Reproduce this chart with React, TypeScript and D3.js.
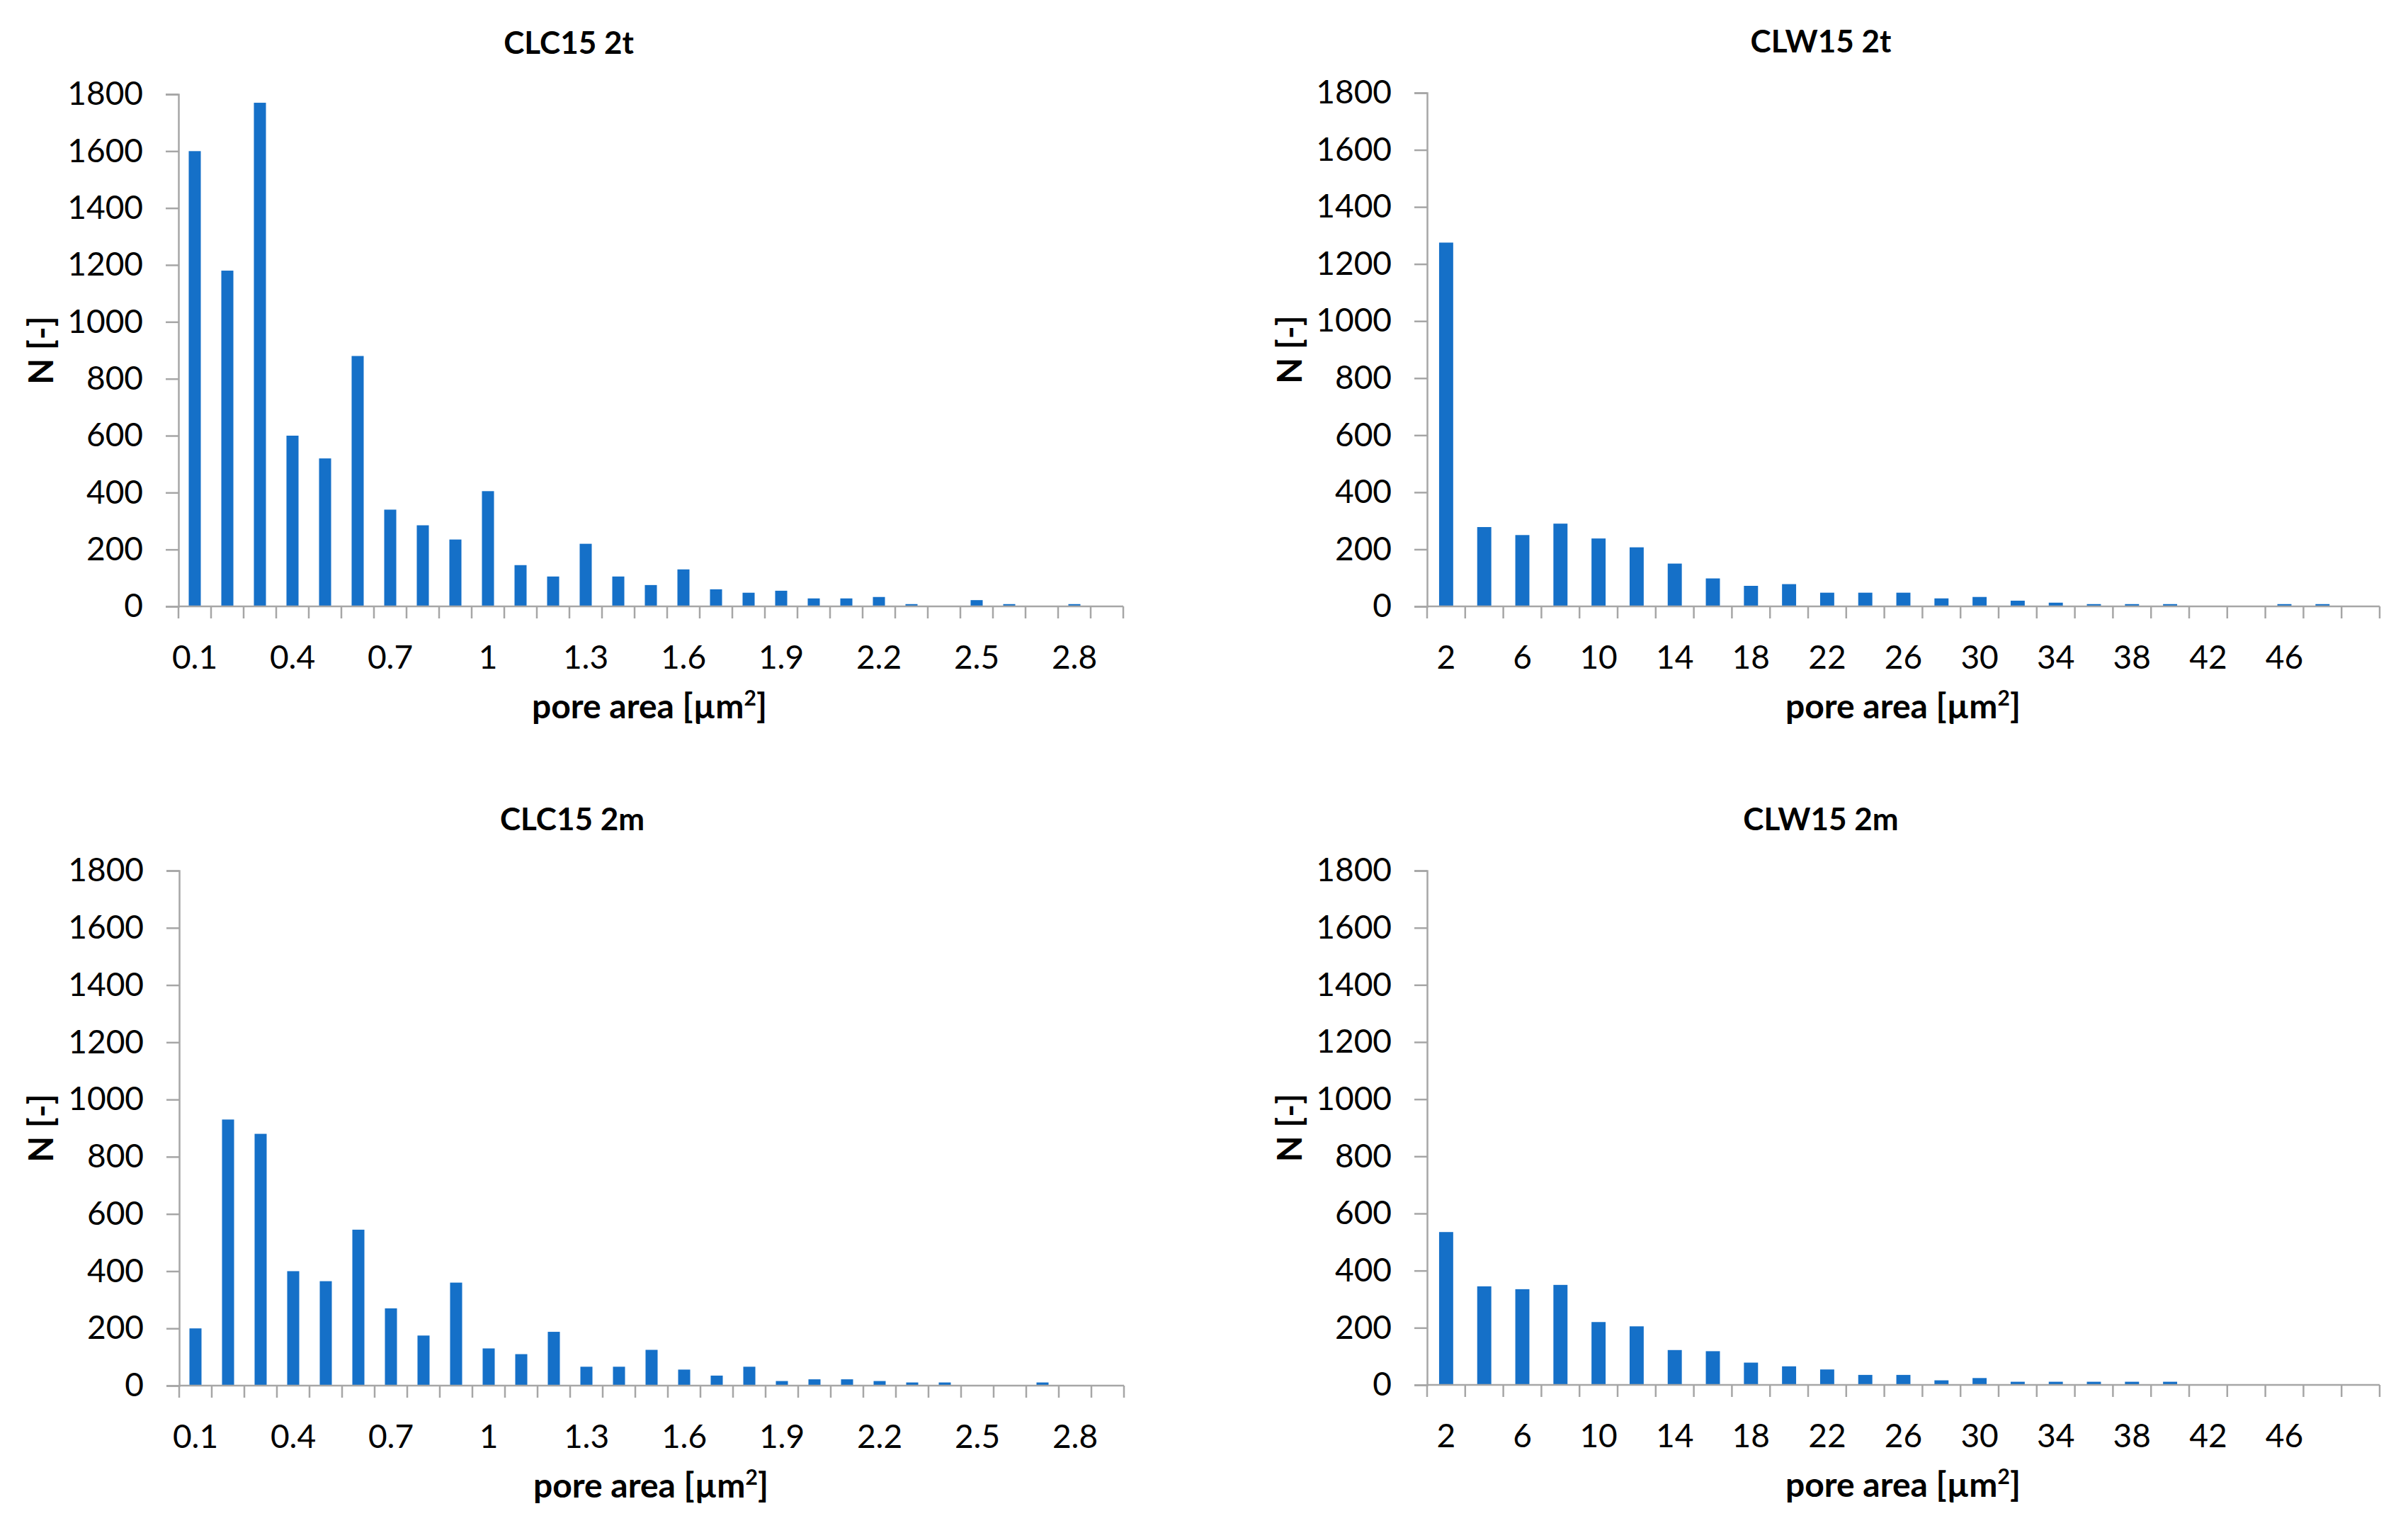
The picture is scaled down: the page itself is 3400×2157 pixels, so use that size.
import React, { useEffect, useRef } from "react";
import * as d3 from "d3";

// category labels (pore area, µm²)
const clcCats = [
  "0.1", "0.2", "0.3", "0.4", "0.5", "0.6", "0.7", "0.8", "0.9", "1",
  "1.1", "1.2", "1.3", "1.4", "1.5", "1.6", "1.7", "1.8", "1.9", "2",
  "2.1", "2.2", "2.3", "2.4", "2.5", "2.6", "2.7", "2.8", "2.9",
];
const clwCats = [
  "2", "4", "6", "8", "10", "12", "14", "16", "18", "20", "22", "24", "26",
  "28", "30", "32", "34", "36", "38", "40", "42", "44", "46", "48", "50",
];

// labelled x ticks
const clcTickLabels = ["0.1", "0.4", "0.7", "1", "1.3", "1.6", "1.9", "2.2", "2.5", "2.8"];
const clwTickLabels = ["2", "6", "10", "14", "18", "22", "26", "30", "34", "38", "42", "46"];

const yTicks = [0, 200, 400, 600, 800, 1000, 1200, 1400, 1600, 1800];

// counts N [-]
const clc2t = [
  1600, 1180, 1770, 600, 520, 880, 340, 285, 235, 405, 145, 105, 220, 105, 75,
  130, 60, 48, 55, 28, 28, 33, 8, 0, 22, 8, 0, 8, 0,
];
const clw2t = [
  1275, 278, 250, 290, 238, 207, 150, 98, 72, 78, 48, 48, 48, 28, 33, 20, 13, 8,
  8, 8, 0, 0, 8, 8, 0,
];
const clc2m = [
  200, 930, 880, 400, 365, 545, 270, 175, 360, 130, 110, 188, 66, 66, 125, 56,
  35, 66, 16, 22, 22, 16, 11, 11, 0, 0, 11, 0, 0,
];
const clw2m = [
  535, 345, 335, 350, 220, 205, 122, 118, 78, 65, 54, 35, 35, 16, 24, 11, 11,
  11, 11, 11, 0, 0, 0, 0, 0,
];

const W = 3400;
const H = 2157;
const FONT = "Lato, 'Open Sans', sans-serif";
const BAR = "#1570c8";
const AXIS = "#a6a6a6";

interface IPanel {
  title: string;
  cats: string[];
  labels: string[];
  values: number[];
  x0: number;
  width: number;
  top: number;
  bottom: number;
  titleX: number;
  xTitleX: number;
  yTitleX: number;
}

const panels: IPanel[] = [
  { title: "CLC15 2t", cats: clcCats, labels: clcTickLabels, values: clc2t, x0: 252, width: 1334, top: 133, bottom: 856, titleX: 803, xTitleX: 917, yTitleX: 75 },
  { title: "CLW15 2t", cats: clwCats, labels: clwTickLabels, values: clw2t, x0: 2015, width: 1345, top: 131, bottom: 856, titleX: 2571, xTitleX: 2687, yTitleX: 1838 },
  { title: "CLC15 2m", cats: clcCats, labels: clcTickLabels, values: clc2m, x0: 253, width: 1334, top: 1229, bottom: 1956, titleX: 808, xTitleX: 919, yTitleX: 75 },
  { title: "CLW15 2m", cats: clwCats, labels: clwTickLabels, values: clw2m, x0: 2015, width: 1345, top: 1229, bottom: 1955, titleX: 2571, xTitleX: 2687, yTitleX: 1838 },
];

function App() {
  const ref = useRef<SVGSVGElement | null>(null);

  useEffect(() => {
    const svg = d3.select(ref.current);
    svg.selectAll("*").remove();

    panels.forEach((p) => {
      const g = svg.append("g");
      const n = p.cats.length;

      const x = d3
        .scaleBand<string>()
        .domain(p.cats)
        .range([p.x0, p.x0 + p.width])
        .paddingInner(0.63)
        .paddingOuter(0.315);
      const edge = d3.scaleLinear().domain([0, n]).range([p.x0, p.x0 + p.width]);
      const y = d3.scaleLinear().domain([0, 1800]).range([p.bottom, p.top]);

      // title
      g.append("text")
        .attr("x", p.titleX)
        .attr("y", p.top - 57)
        .attr("text-anchor", "middle")
        .attr("font-family", FONT)
        .attr("font-weight", "bold")
        .attr("font-size", 44)
        .text(p.title);

      // y axis
      const yAxis = d3
        .axisLeft(y)
        .tickValues(yTicks)
        .tickSize(18)
        .tickPadding(32)
        .tickFormat((d) => String(d));
      const ya = g.append("g").attr("transform", `translate(${p.x0},0)`).call(yAxis);
      ya.select(".domain").attr("stroke", AXIS).attr("stroke-width", 2.5);
      ya.selectAll(".tick line").attr("stroke", AXIS).attr("stroke-width", 2.5);
      ya.selectAll(".tick text")
        .attr("font-family", FONT)
        .attr("font-size", 46)
        .attr("fill", "#000");

      // bars
      g.selectAll("rect.bar")
        .data(p.values.map((v, i) => ({ c: p.cats[i], v })).filter((d) => d.v > 0))
        .enter()
        .append("rect")
        .attr("class", "bar")
        .attr("x", (d) => x(d.c) as number)
        .attr("width", x.bandwidth())
        .attr("y", (d) => y(d.v))
        .attr("height", (d) => y(0) - y(d.v))
        .attr("fill", BAR);

      // x axis line + category boundary ticks
      g.append("line")
        .attr("x1", p.x0)
        .attr("x2", p.x0 + p.width)
        .attr("y1", y(0))
        .attr("y2", y(0))
        .attr("stroke", AXIS)
        .attr("stroke-width", 2.5);
      g.selectAll("line.xtick")
        .data(d3.range(n + 1))
        .enter()
        .append("line")
        .attr("class", "xtick")
        .attr("x1", (d) => edge(d))
        .attr("x2", (d) => edge(d))
        .attr("y1", y(0))
        .attr("y2", y(0) + 17)
        .attr("stroke", AXIS)
        .attr("stroke-width", 2.5);

      // x tick labels
      g.selectAll("text.xlab")
        .data(p.labels)
        .enter()
        .append("text")
        .attr("class", "xlab")
        .attr("x", (d) => (x(d) as number) + x.bandwidth() / 2)
        .attr("y", y(0) + 88)
        .attr("text-anchor", "middle")
        .attr("font-family", FONT)
        .attr("font-size", 46)
        .text((d) => d);

      // x axis title
      const xt = g
        .append("text")
        .attr("x", p.xTitleX)
        .attr("y", y(0) + 158)
        .attr("text-anchor", "middle")
        .attr("font-family", FONT)
        .attr("font-weight", "bold")
        .attr("font-size", 48);
      xt.append("tspan").text("pore area [µm");
      xt.append("tspan").attr("font-size", 30).attr("dy", -18).text("2");
      xt.append("tspan").attr("dy", 18).text("]");

      // y axis title
      g.append("text")
        .attr("transform", `translate(${p.yTitleX},${(p.top + p.bottom) / 2}) rotate(-90)`)
        .attr("text-anchor", "middle")
        .attr("font-family", FONT)
        .attr("font-weight", "bold")
        .attr("font-size", 48)
        .text("N [-]");
    });
  }, []);

  return (
    <svg
      ref={ref}
      width={W}
      height={H}
      style={{ position: "absolute", left: 0, top: 0, background: "#fff" }}
    />
  );
}

export default App;
